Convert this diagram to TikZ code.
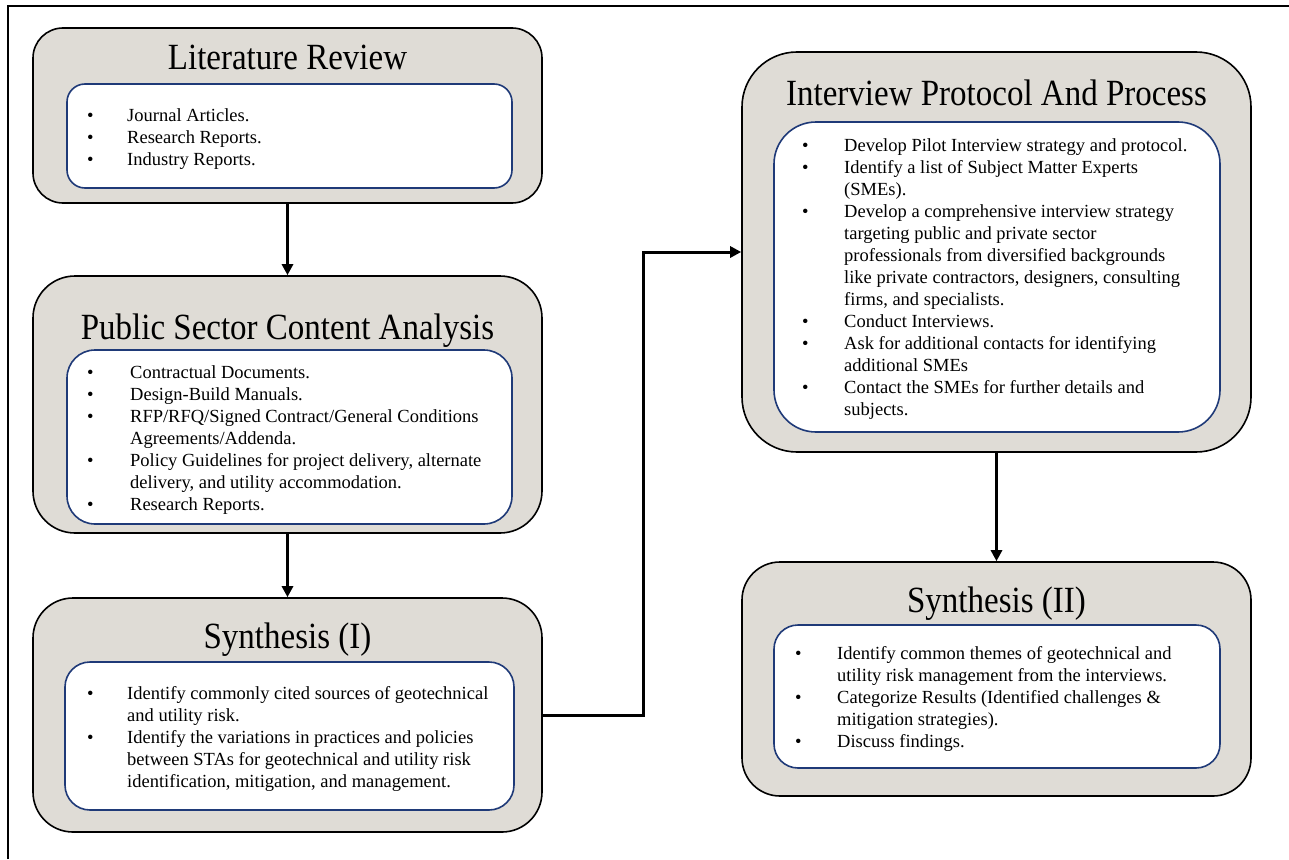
\documentclass[tikz,border=0pt]{standalone}
\usepackage{fontspec}
\setmainfont{Liberation Serif}
\usetikzlibrary{arrows.meta}
\definecolor{boxgray}{HTML}{DFDCD6}
\definecolor{navy}{HTML}{1F3A78}
\newcommand{\blist}[2]{\vtop{\halign{\hbox to #1{##\hfil}&##\hfil\cr #2\crcr}}}
\newcommand{\bu}{\textbullet}
\newcommand{\ttl}[1]{\scalebox{1}[1.12]{#1}}
\begin{document}
\begin{tikzpicture}[x=1pt,y=-1pt,
  outerbox/.style={draw=black, line width=1.6pt, fill=boxgray, rounded corners=#1,
    minimum width=509pt, inner sep=0pt},
  innerbox/.style={draw=navy, line width=1.6pt, fill=white, rounded corners=#1,
    inner sep=0pt},
  titletext/.style={anchor=base, inner sep=0pt, font=\fontsize{33}{36}\selectfont},
  bodytext/.style={anchor=base west, inner sep=0pt, font=\fontsize{18.5}{22}\selectfont},
  conn/.style={line width=3pt, -{Triangle[length=11pt,width=11pt]}},
  frameline/.style={line width=1.5pt}]
\useasboundingbox (0,0) rectangle (1289,859);

% frame
\coordinate (fbl) at (8,859);
\coordinate (ftl) at (8,6);
\coordinate (ftr) at (1289,6);
\draw[frameline] (fbl) -- (ftl) -- (ftr);

% Literature Review
\node[outerbox=30pt, minimum height=175pt] (lr) at (287.5,115.5) {};
\node[innerbox=18pt, minimum width=445pt, minimum height=104pt] (lri) at (289.5,136) {};
\node[titletext] (lrt) at (287.5,70) {\ttl{Literature Review}};
\node[bodytext] (lrb) at (87,121) {\blist{40pt}{%
\bu & Journal Articles.\cr
\bu & Research Reports.\cr
\bu & Industry Reports.}};

% Public Sector Content Analysis
\node[outerbox=42pt, minimum height=257pt] (ps) at (287.5,404.5) {};
\node[innerbox=28pt, minimum width=445pt, minimum height=174pt] (psi) at (289.5,437) {};
\node[titletext] (pst) at (287.5,339) {\ttl{Public Sector Content Analysis}};
\node[bodytext] (psb) at (87,378) {\blist{43pt}{%
\bu & Contractual Documents.\cr
\bu & Design-Build Manuals.\cr
\bu & RFP/RFQ/Signed Contract/General Conditions\cr
    & Agreements/Addenda.\cr
\bu & Policy Guidelines for project delivery, alternate\cr
    & delivery, and utility accommodation.\cr
\bu & Research Reports.}};

% Synthesis (I)
\node[outerbox=40pt, minimum height=234pt] (s1) at (287.5,715) {};
\node[innerbox=25pt, minimum width=449pt, minimum height=148pt] (s1i) at (289.5,736) {};
\node[titletext] (s1t) at (287.5,648) {\ttl{Synthesis (I)}};
\node[bodytext] (s1b) at (87,699) {\blist{40pt}{%
\bu & Identify commonly cited sources of geotechnical\cr
    & and utility risk.\cr
\bu & Identify the variations in practices and policies\cr
    & between STAs for geotechnical and utility risk\cr
    & identification, mitigation, and management.}};

% Interview Protocol And Process
\node[outerbox=55pt, minimum height=400pt] (ip) at (996.5,252) {};
\node[innerbox=42pt, minimum width=446pt, minimum height=310pt] (ipi) at (997,277) {};
\node[titletext] (ipt) at (996.5,105) {\ttl{Interview Protocol And Process}};
\node[bodytext] (ipb) at (802,151) {\blist{42pt}{%
\bu & Develop Pilot Interview strategy and protocol.\cr
\bu & Identify a list of Subject Matter Experts\cr
    & (SMEs).\cr
\bu & Develop a comprehensive interview strategy\cr
    & targeting public and private sector\cr
    & professionals from diversified backgrounds\cr
    & like private contractors, designers, consulting\cr
    & firms, and specialists.\cr
\bu & Conduct Interviews.\cr
\bu & Ask for additional contacts for identifying\cr
    & additional SMEs\cr
\bu & Contact the SMEs for further details and\cr
    & subjects.}};

% Synthesis (II)
\node[outerbox=38pt, minimum height=234pt] (s2) at (996.5,679) {};
\node[innerbox=24pt, minimum width=446pt, minimum height=143pt] (s2i) at (997,696.5) {};
\node[titletext] (s2t) at (996.5,612) {\ttl{Synthesis (II)}};
\node[bodytext] (s2b) at (795,659) {\blist{42pt}{%
\bu & Identify common themes of geotechnical and\cr
    & utility risk management from the interviews.\cr
\bu & Categorize Results (Identified challenges \&\cr
    & mitigation strategies).\cr
\bu & Discuss findings.}};

% connectors
\coordinate (elbowx) at (643,0);
\draw[conn] (lr.south) -- (ps.north);
\draw[conn] (ps.south) -- (s1.north);
\draw[conn] (s1.east) -- (s1.east -| elbowx) |- (ip.west);
\draw[conn] (ip.south) -- (s2.north);
\end{tikzpicture}
\end{document}
